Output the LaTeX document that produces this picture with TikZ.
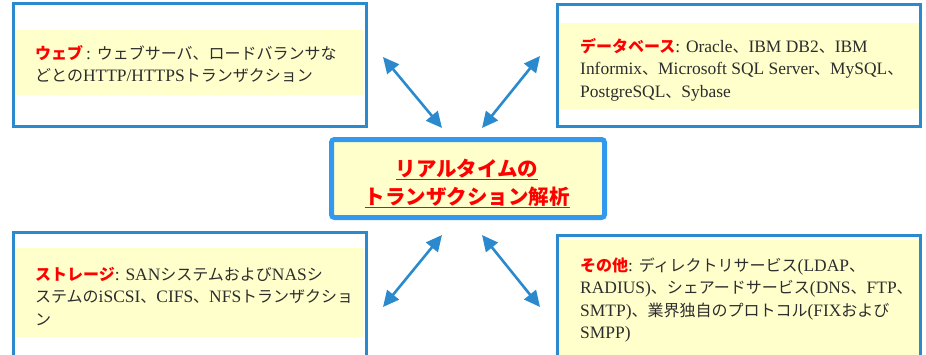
\documentclass[tikz,border=0pt]{standalone}
\usepackage{fontspec}
\setmainfont[Scale=1.09]{Liberation Serif}
\newfontfamily\jp{Noto Sans CJK JP}
\usetikzlibrary{arrows.meta}
\definecolor{boxblue}{RGB}{43,138,206}
\definecolor{ctrblue}{RGB}{51,153,238}
\definecolor{band}{RGB}{255,255,204}
\definecolor{txt}{RGB}{45,45,45}
\definecolor{lbl}{RGB}{255,0,0}
\newcommand\J[1]{{\jp #1}}
\newcommand\LB[1]{{\jp\bfseries\color{lbl}#1}}
\tikzset{
  outerbox/.style={draw=boxblue, line width=3pt, fill=white, inner sep=0pt},
  bandbox/.style={fill=band, draw=none, inner sep=0pt},
  ctrbox/.style={draw=ctrblue, line width=5pt, fill=band, rounded corners=3pt, inner sep=0pt},
  bodytxt/.style={anchor=base west, inner sep=0pt, text=txt, font=\fontsize{16}{22.5}\selectfont},
  arr/.style={draw=boxblue, line width=2.6pt, {Triangle[length=16pt,width=15pt]}-{Triangle[length=16pt,width=15pt]}}
}
\begin{document}
\begin{tikzpicture}[x=1pt,y=-1pt]
\useasboundingbox (0,0) rectangle (926,354);
\clip (0,0) rectangle (926,354);
% outer boxes
\node[outerbox, minimum width=353pt, minimum height=123pt] (tlbox) at (190,65) {};
\node[outerbox, minimum width=363pt, minimum height=122pt] (trbox) at (739,65.5) {};
\node[outerbox, minimum width=353pt, minimum height=147.5pt] (blbox) at (190,306.25) {};
\node[outerbox, minimum width=363pt, minimum height=144.5pt] (brbox) at (739,307.75) {};
% yellow bands
\node[bandbox, minimum width=347pt, minimum height=65pt] (tlband) at (189.5,62.5) {};
\node[bandbox, minimum width=359pt, minimum height=86pt] (trband) at (739.5,66) {};
\node[bandbox, minimum width=347pt, minimum height=89pt] (blband) at (189.5,292.5) {};
\node[bandbox, minimum width=359pt, minimum height=140pt] (brband) at (739.5,310) {};
% texts
\node[bodytxt] (tltext) at (35,59) {\begin{tabular}[t]{@{}l@{}}
\LB{ウェブ}\,: \J{ウェブサーバ、ロードバランサな}\\
\J{どとの}HTTP/HTTPS\J{トランザクション}
\end{tabular}};
\node[bodytxt] (trtext) at (580,52) {\begin{tabular}[t]{@{}l@{}}
\LB{データベース}: Oracle\J{、}IBM DB2\J{、}IBM\\
Informix\J{、}Microsoft SQL Server\J{、}MySQL\J{、}\\
PostgreSQL\J{、}Sybase
\end{tabular}};
\node[bodytxt] (bltext) at (35,280) {\begin{tabular}[t]{@{}l@{}}
\LB{ストレージ}: SAN\J{システムおよび}NAS\J{シ}\\
\J{ステムの}iSCSI\J{、}CIFS\J{、}NFS\J{トランザクショ}\\
\J{ン}
\end{tabular}};
\node[bodytxt] (brtext) at (580,271) {\begin{tabular}[t]{@{}l@{}}
\LB{その他}: \J{ディレクトリサービス}(LDAP\J{、}\\
RADIUS)\J{、シェアードサービス}(DNS\J{、}FTP\J{、}\\
SMTP)\J{、業界独自のプロトコル}(FIX\J{および}\\
SMPP)
\end{tabular}};
% center
\node[ctrbox, minimum width=273pt, minimum height=78pt] (center) at (468,178.5) {};
\node[inner sep=0pt, anchor=base, text=lbl, font=\jp\bfseries\fontsize{20.5}{28}\selectfont] (ctext) at (467,176) {\begin{tabular}[t]{@{}c@{}}
\underline{リアルタイムの}\\
\underline{トランザクション解析}
\end{tabular}};
% arrow ends
\coordinate (a1s) at (383,57);  \coordinate (a1e) at (442,128);
\coordinate (a2s) at (540,56);  \coordinate (a2e) at (482,128);
\coordinate (a3s) at (442,235); \coordinate (a3e) at (383,307);
\coordinate (a4s) at (482,235); \coordinate (a4e) at (540,307);
\draw[arr] (a1s) -- (a1e);
\draw[arr] (a2s) -- (a2e);
\draw[arr] (a3s) -- (a3e);
\draw[arr] (a4s) -- (a4e);
\end{tikzpicture}
\end{document}
